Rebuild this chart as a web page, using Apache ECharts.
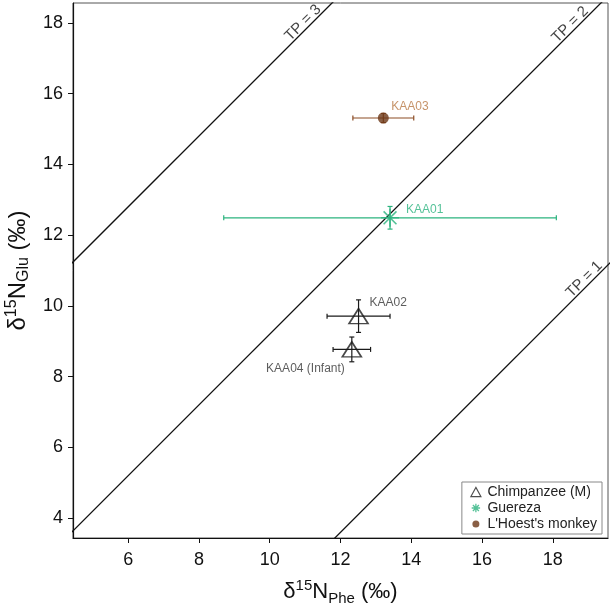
<!DOCTYPE html>
<html>
<head>
<meta charset="utf-8">
<script src="https://cdn.jsdelivr.net/npm/echarts@6/dist/echarts.min.js"></script>
<style>
  html, body { margin: 0; background: #fff; }
  #main { width: 610px; height: 607px; }
</style>
</head>
<body>
<div id="main"></div>
<script>
// sample values (per mil)
var samples = ['KAA02', 'KAA04 (Infant)', 'KAA01', 'KAA03'];
var groups  = ['Chimpanzee (M)', 'Chimpanzee (M)', 'Guereza', "L'Hoest's monkey"];
var phe     = [12.51, 12.32, 13.40, 13.21];
var pheErr  = [0.89, 0.53, 4.70, 0.86];
var glu     = [9.71, 8.77, 12.49, 15.31];
var gluErr  = [0.46, 0.35, 0.32, 0.13];

// trophic position lines: glu = phe + beta + tdf * (TP - 1)
var tpLevels = [1, 2, 3];
var tpLabelX = [19.0, 18.6, 11.05];
var beta = -8.4;
var tdf = 7.6;

var xTicks = [6, 8, 10, 12, 14, 16, 18];
var yTicks = [4, 6, 8, 10, 12, 14, 16, 18];
var xMin = 4.44, xMax = 19.56;
var yMin = 3.44, yMax = 18.56;

var groupNames = ['Chimpanzee (M)', 'Guereza', "L'Hoest's monkey"];
var groupColor = { 'Chimpanzee (M)': '#1a1a1a', 'Guereza': '#2bb37e', "L'Hoest's monkey": '#6b3716' };
var barColor   = { 'Chimpanzee (M)': '#1a1a1a', 'Guereza': '#2bb37e', "L'Hoest's monkey": '#8c4c25' };
var textColor  = { 'Chimpanzee (M)': '#333333', 'Guereza': '#2bb37e', "L'Hoest's monkey": '#b87844' };
var labelPlace = {
  'KAA02': { offset: [11, -13], align: 'left' },
  'KAA04 (Infant)': { offset: [-7, 19], align: 'right' },
  'KAA01': { offset: [16, -8], align: 'left' },
  'KAA03': { offset: [8, -11], align: 'left' }
};

var FONT = '"Liberation Sans", Arial, sans-serif';
var starPath = 'path://M7,0L7,14M0,7L14,7M2,2L12,12M2,12L12,2';
var starIcon = 'path://M-3,-3M17,17M7,0L7,14M0,7L14,7M2,2L12,12M2,12L12,2';
var dotIcon = 'path://M0,0M12,12M2.5,6A3.5,3.5,0,0,1,9.5,6A3.5,3.5,0,0,1,2.5,6Z';
var triIcon = 'path://M0,0M14,13M7,1.5L12.5,11.5L1.5,11.5Z';

function errorBar(params, api) {
  var x = api.value(0), y = api.value(1), ex = api.value(2), ey = api.value(3);
  var c = api.coord([x, y]);
  var l = api.coord([x - ex, y]), r = api.coord([x + ex, y]);
  var t = api.coord([x, y + ey]), b = api.coord([x, y - ey]);
  var cap = 2.5;
  var st = { stroke: api.visual('color'), lineWidth: 1.2, fill: null };
  function seg(x1, y1, x2, y2) {
    return { type: 'line', shape: { x1: x1, y1: y1, x2: x2, y2: y2 }, style: st };
  }
  return {
    type: 'group',
    children: [
      seg(l[0], c[1], r[0], c[1]),
      seg(l[0], c[1] - cap, l[0], c[1] + cap),
      seg(r[0], c[1] - cap, r[0], c[1] + cap),
      seg(c[0], t[1], c[0], b[1]),
      seg(c[0] - cap, t[1], c[0] + cap, t[1]),
      seg(c[0] - cap, b[1], c[0] + cap, b[1])
    ]
  };
}

var series = [];

tpLevels.forEach(function (tp, i) {
  var off = beta + tdf * (tp - 1);
  series.push({
    type: 'line',
    silent: true,
    symbol: 'none',
    clip: true,
    lineStyle: { color: '#111', width: 1.3 },
    data: [[0, off], [30, 30 + off]],
    z: 1
  });
  series.push({
    type: 'scatter',
    silent: true,
    symbolSize: 1,
    itemStyle: { color: 'rgba(0,0,0,0)' },
    label: {
      show: true,
      position: 'inside',
      rotate: 45,
      align: 'center',
      verticalAlign: 'bottom',
      offset: [1, 1],
      formatter: 'TP = ' + tp,
      fontFamily: FONT,
      fontSize: 15,
      color: '#111'
    },
    data: [[tpLabelX[i], tpLabelX[i] + off]],
    z: 2
  });
});

groupNames.forEach(function (g) {
  var pts = [];
  var bars = [];
  for (var i = 0; i < samples.length; i++) {
    if (groups[i] !== g) continue;
    bars.push([phe[i], glu[i], pheErr[i], gluErr[i]]);
    var p = labelPlace[samples[i]];
    pts.push({
      name: samples[i],
      value: [phe[i], glu[i]],
      label: { offset: p.offset, align: p.align }
    });
  }
  series.push({
    type: 'custom',
    silent: true,
    renderItem: errorBar,
    itemStyle: { color: barColor[g] },
    data: bars,
    z: 3
  });
  var s = {
    name: g,
    type: 'scatter',
    data: pts,
    z: 4,
    label: {
      show: true,
      position: 'inside',
      verticalAlign: 'middle',
      formatter: '{b}',
      fontFamily: FONT,
      fontSize: 12,
      color: textColor[g]
    }
  };
  if (g === 'Chimpanzee (M)') {
    s.symbol = 'triangle';
    s.symbolSize = [19, 15];
    s.itemStyle = { color: 'rgba(0,0,0,0)', borderColor: groupColor[g], borderWidth: 1.6 };
  } else if (g === 'Guereza') {
    s.symbol = starPath;
    s.symbolSize = 18;
    s.itemStyle = { color: 'rgba(0,0,0,0)', borderColor: groupColor[g], borderWidth: 1.6 };
  } else {
    s.symbol = 'circle';
    s.symbolSize = 11;
    s.itemStyle = { color: groupColor[g] };
  }
  series.push(s);
});

var chart = echarts.init(document.getElementById('main'));
chart.setOption({
  animation: false,
  backgroundColor: '#fff',
  textStyle: { fontFamily: FONT },
  grid: {
    left: 73, right: 2, top: 3, bottom: 69,
    containLabel: false,
    outerBoundsMode: 'none',
    show: true, borderColor: '#555', borderWidth: 1
  },
  legend: {
    orient: 'vertical',
    right: 8,
    top: 482,
    backgroundColor: '#fff',
    borderColor: '#888',
    borderWidth: 1,
    borderRadius: 0,
    padding: [3, 5, 3, 7],
    itemGap: 2,
    itemWidth: 13,
    itemHeight: 12,
    textStyle: { fontFamily: FONT, fontSize: 14, color: '#222', lineHeight: 13 },
    data: [
      { name: 'Chimpanzee (M)', icon: triIcon, itemStyle: { color: 'rgba(0,0,0,0)', borderColor: '#222', borderWidth: 1.1 } },
      { name: 'Guereza', icon: starIcon, itemStyle: { color: 'rgba(0,0,0,0)', borderColor: '#2bb37e', borderWidth: 1.3 } },
      { name: "L'Hoest's monkey", icon: dotIcon, itemStyle: { color: '#6b3716', borderWidth: 0 } }
    ]
  },
  xAxis: {
    type: 'value',
    min: xMin,
    max: xMax,
    name: '{t|δ}{sup|15}{t|N}{sub|Phe}{t| (‰)}',
    nameLocation: 'middle',
    nameGap: 40,
    nameTextStyle: {
      rich: {
        t: { fontFamily: FONT, fontSize: 22, lineHeight: 28, color: '#111' },
        sup: { fontFamily: FONT, fontSize: 15, lineHeight: 15, verticalAlign: 'top', color: '#111' },
        sub: { fontFamily: FONT, fontSize: 15, lineHeight: 15, verticalAlign: 'bottom', color: '#111' }
      }
    },
    splitLine: { show: false },
    axisLine: { onZero: false, lineStyle: { color: '#111', width: 1.2 } },
    axisTick: { customValues: xTicks, length: 5, lineStyle: { color: '#111' } },
    axisLabel: { customValues: xTicks, fontSize: 18, color: '#111', margin: 13, fontFamily: FONT }
  },
  yAxis: {
    type: 'value',
    min: yMin,
    max: yMax,
    name: '{t|δ}{sup|15}{t|N}{sub|Glu}{t| (‰)}',
    nameLocation: 'middle',
    nameGap: 37,
    nameTextStyle: {
      rich: {
        t: { fontFamily: FONT, fontSize: 24, lineHeight: 28, color: '#111' },
        sup: { fontFamily: FONT, fontSize: 16, lineHeight: 15, verticalAlign: 'top', color: '#111' },
        sub: { fontFamily: FONT, fontSize: 16, lineHeight: 15, verticalAlign: 'bottom', color: '#111' }
      }
    },
    splitLine: { show: false },
    axisLine: { onZero: false, lineStyle: { color: '#111', width: 1.2 } },
    axisTick: { customValues: yTicks, length: 5, lineStyle: { color: '#111' } },
    axisLabel: { customValues: yTicks, fontSize: 18, color: '#111', margin: 10, fontFamily: FONT }
  },
  series: series
});
</script>
</body>
</html>
